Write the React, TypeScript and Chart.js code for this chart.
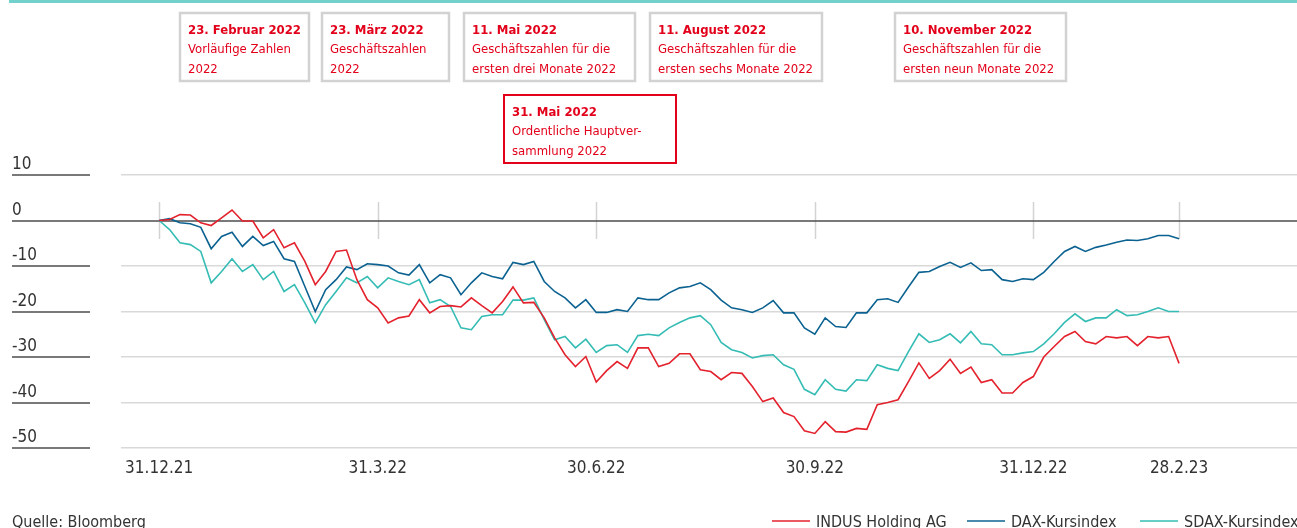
import React, { useEffect, useRef } from "react";
import { Chart, registerables } from "chart.js";

Chart.register(...registerables);

// ---- data (percent change since 31.12.21, sampled every STEP trading days) ----
const STEP = 3;
const INDUS = [
  0, 0.2, 1.3, 1.2, -0.5, -1.1, 0.6, 2.3, -0.1, -0.1,
  -3.8, -2, -6, -4.9, -9, -14.1, -11.2, -6.8, -6.5, -13,
  -17.4, -19.2, -22.5, -21.4, -21, -17.4, -20.3, -18.9, -18.7, -19,
  -17, -18.7, -20.3, -17.8, -14.6, -18.1, -18, -21.4, -25.8, -29.5,
  -32.1, -29.9, -35.5, -33, -31, -32.5, -28, -28, -32.1, -31.4,
  -29.3, -29.3, -32.8, -33.2, -35, -33.4, -33.6, -36.5, -39.8, -39,
  -42.2, -43.1, -46.2, -46.8, -44.2, -46.4, -46.5, -45.7, -45.9, -40.5,
  -40, -39.4, -35.4, -31.3, -34.7, -33, -30.5, -33.6, -32.2, -35.6,
  -35, -37.9, -37.9, -35.6, -34.3, -30, -27.7, -25.5, -24.4, -26.6,
  -27.1, -25.5, -25.8, -25.5, -27.5, -25.5, -25.8, -25.5, -31.4,
];
const DAX = [
  0, 0.4, -0.5, -0.7, -1.5, -6.2, -3.5, -2.6, -5.7, -3.5,
  -5.5, -4.6, -8.4, -9, -14.5, -20, -15.2, -13, -10.2, -10.8,
  -9.5, -9.7, -10, -11.5, -12, -9.7, -13.7, -11.9, -12.6, -16.3,
  -13.7, -11.5, -12.3, -12.8, -9.2, -9.7, -9, -13.4, -15.6, -17,
  -19.2, -17.4, -20.2, -20.2, -19.6, -20, -17, -17.4, -17.4, -15.9,
  -14.8, -14.5, -13.7, -15.2, -17.5, -19.2, -19.6, -20.2, -19.2, -17.6,
  -20.3, -20.3, -23.6, -25, -21.4, -23.3, -23.5, -20.3, -20.3, -17.4,
  -17.2, -18, -14.6, -11.4, -11.2, -10.1, -9.2, -10.3, -9.3, -11,
  -10.8, -13, -13.4, -12.8, -13, -11.4, -9, -6.8, -5.7, -6.8,
  -5.9, -5.4, -4.8, -4.3, -4.4, -4, -3.3, -3.3, -4,
];
const SDAX = [
  0, -2, -4.9, -5.3, -6.8, -13.7, -11.2, -8.4, -11.2, -9.7,
  -13, -11.2, -15.6, -14.1, -18.1, -22.5, -18.5, -15.6, -12.6, -13.7,
  -12.3, -14.8, -12.6, -13.4, -14.1, -13, -18.1, -17.4, -18.9, -23.6,
  -24, -21.1, -20.7, -20.7, -17.5, -17.5, -17, -21.8, -26.2, -25.5,
  -28, -26.1, -29, -27.5, -27.3, -29, -25.3, -25, -25.3, -23.6,
  -22.4, -21.4, -20.9, -22.9, -26.8, -28.4, -29, -30.2, -29.7, -29.5,
  -31.7, -32.7, -37.1, -38.3, -35, -37.1, -37.5, -35, -35.2, -31.7,
  -32.5, -33, -28.8, -24.9, -26.8, -26.2, -24.9, -26.9, -24.4, -27.1,
  -27.3, -29.5, -29.5, -29.1, -28.8, -27.1, -24.9, -22.4, -20.5, -22.2,
  -21.4, -21.4, -19.6, -20.9, -20.7, -20, -19.2, -20, -20,
];
const SERIES_NAMES = ["INDUS Holding AG", "DAX-Kursindex", "SDAX-Kursindex"];
const TICK_DAYS = [0, 63, 126, 189, 252, 294];
const TICK_LABELS = ["31.12.21", "31.3.22", "30.6.22", "30.9.22", "31.12.22", "28.2.23"];
const Y_TICKS = [10, 0, -10, -20, -30, -40, -50];
const SOURCE = "Quelle: Bloomberg";
const EVENT_DATES = [
  "23. Februar 2022",
  "23. März 2022",
  "11. Mai 2022",
  "11. August 2022",
  "10. November 2022",
  "31. Mai 2022",
];
const EVENT_TEXTS = [
  ["Vorläufige Zahlen", "2022"],
  ["Geschäftszahlen", "2022"],
  ["Geschäftszahlen für die", "ersten drei Monate 2022"],
  ["Geschäftszahlen für die", "ersten sechs Monate 2022"],
  ["Geschäftszahlen für die", "ersten neun Monate 2022"],
  ["Ordentliche Hauptver-", "sammlung 2022"],
];

// ---- layout / style ----
const FONT = "'DejaVu Sans Condensed', 'Liberation Sans Narrow', Roboto, sans-serif";
const COLORS = ["#e3222d", "#0b6291", "#35bcb4"];
const RED_TEXT = "#e3001b";
const BOX_RECTS = [
  [179, 12, 131, 70],
  [321, 12, 129, 70],
  [463, 12, 173, 70],
  [649, 12, 174, 70],
  [894, 12, 173, 70],
  [503, 94, 174, 70],
];
const HIGHLIGHT_BOX = 5;
const LEGEND_X = [772, 967, 1140];

const decor = {
  id: "decor",
  beforeDatasetsDraw(chart: any) {
    const { ctx, scales } = chart;
    const ys = scales.y;
    const xs = scales.x;
    const y0 = Math.round(ys.getPixelForValue(0));
    ctx.save();
    // vertical quarter markers
    ctx.strokeStyle = "#d3d3d3";
    ctx.lineWidth = 1.5;
    TICK_DAYS.forEach((d) => {
      const px = Math.round(xs.getPixelForValue(d)) + 0.5;
      ctx.beginPath();
      ctx.moveTo(px, y0 - 19);
      ctx.lineTo(px, y0 + 18);
      ctx.stroke();
    });
    // y labels with underline
    ctx.font = `17px ${FONT}`;
    ctx.fillStyle = "#333";
    ctx.textAlign = "left";
    ctx.textBaseline = "alphabetic";
    Y_TICKS.forEach((v) => {
      const py = Math.round(ys.getPixelForValue(v));
      ctx.fillText(String(v), 12, py - 6);
      ctx.strokeStyle = "#4d4d4d";
      ctx.lineWidth = 1.5;
      ctx.beginPath();
      ctx.moveTo(12, py);
      ctx.lineTo(v === 0 ? chart.width : 90, py);
      ctx.stroke();
    });
    ctx.restore();
  },
  afterDraw(chart: any) {
    const { ctx } = chart;
    ctx.save();
    // top teal rule
    ctx.fillStyle = "#72d1cb";
    ctx.fillRect(9, 0, chart.width - 9, 3);
    // annotation boxes
    BOX_RECTS.forEach((r, i) => {
      const [bx, by, bw, bh] = r;
      const hl = i === HIGHLIGHT_BOX;
      ctx.strokeStyle = hl ? "#e3001b" : "#d2d2d2";
      ctx.lineWidth = hl ? 2 : 2.5;
      ctx.strokeRect(bx + 1, by + 1, bw - 2, bh - 2);
      ctx.fillStyle = RED_TEXT;
      ctx.textAlign = "left";
      ctx.textBaseline = "alphabetic";
      ctx.font = `bold 13px ${FONT}`;
      ctx.fillText(EVENT_DATES[i], bx + 9, by + 22);
      ctx.font = `13px ${FONT}`;
      EVENT_TEXTS[i].forEach((t, j) => {
        ctx.fillText(t, bx + 9, by + 41 + j * 20);
      });
    });
    // legend
    ctx.font = `16px ${FONT}`;
    ctx.textBaseline = "alphabetic";
    SERIES_NAMES.forEach((name, i) => {
      const lx = LEGEND_X[i];
      ctx.strokeStyle = COLORS[i];
      ctx.lineWidth = 1.5;
      ctx.beginPath();
      ctx.moveTo(lx, 521);
      ctx.lineTo(lx + 38, 521);
      ctx.stroke();
      ctx.fillStyle = "#333";
      ctx.fillText(name, lx + 44, 527);
    });
    ctx.fillText(SOURCE, 12, 527);
    ctx.restore();
  },
};

export default function App() {
  const ref = useRef<HTMLCanvasElement | null>(null);
  useEffect(() => {
    if (!ref.current) return;
    const toPts = (arr: number[]) => arr.map((v, i) => ({ x: i * STEP, y: v }));
    const chart = new Chart(ref.current, {
      type: "line",
      data: {
        datasets: [INDUS, DAX, SDAX].map((arr, i) => ({
          label: SERIES_NAMES[i],
          data: toPts(arr),
          borderColor: COLORS[i],
          backgroundColor: COLORS[i],
          borderWidth: 1.6,
          pointRadius: 0,
          tension: 0,
        })),
      },
      options: {
        animation: false,
        responsive: false,
        devicePixelRatio: 1,
        layout: { padding: { left: 121, top: 175, right: 0, bottom: 0 } },
        plugins: { legend: { display: false }, tooltip: { enabled: false } },
        scales: {
          x: {
            type: "linear",
            min: -11,
            max: 328,
            afterBuildTicks: (s: any) => {
              s.ticks = TICK_DAYS.map((v) => ({ value: v }));
            },
            afterFit: (s: any) => {
              s.height = 80;
            },
            ticks: {
              autoSkip: false,
              maxRotation: 0,
              padding: 10,
              color: "#333",
              font: { family: FONT, size: 17 },
              callback: (v: any) => TICK_LABELS[TICK_DAYS.indexOf(Number(v))],
            },
            grid: { display: false, drawTicks: false },
            border: { display: false },
          },
          y: {
            min: -50,
            max: 10,
            afterBuildTicks: (s: any) => {
              s.ticks = Y_TICKS.map((v) => ({ value: v }));
            },
            afterFit: (s: any) => {
              s.width = 0;
            },
            ticks: { display: false },
            grid: {
              drawTicks: false,
              lineWidth: 1.5,
              color: (c: any) => (c.tick && c.tick.value === 0 ? "rgba(0,0,0,0)" : "#d9d9d9"),
            },
            border: { display: false },
          },
        },
      },
      plugins: [decor],
    });
    return () => chart.destroy();
  }, []);
  return (
    <div style={{ position: "fixed", left: 0, top: 0, width: 1297, height: 528, background: "#fff" }}>
      <canvas ref={ref} width={1297} height={528} style={{ display: "block" }} />
    </div>
  );
}
